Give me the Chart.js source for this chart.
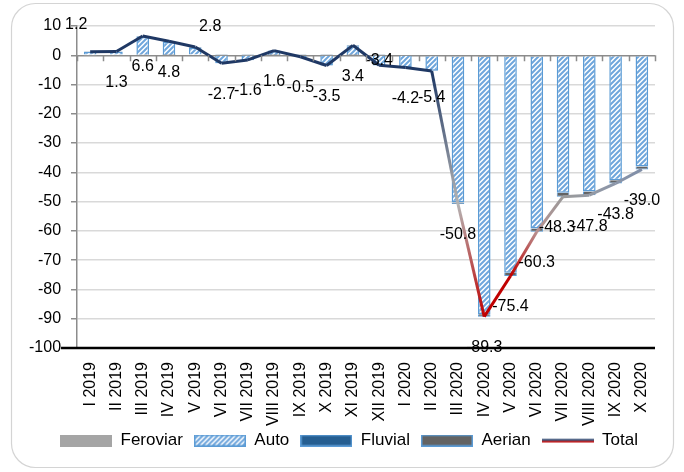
<!DOCTYPE html>
<html><head><meta charset="utf-8">
<script src="https://cdn.jsdelivr.net/npm/chart.js@4/dist/chart.umd.min.js"></script>
<style>html,body{margin:0;padding:0;background:#fff}#wrap{width:684px;height:472px;position:relative}</style>
</head><body><div id="wrap"><canvas id="c"></canvas></div>
<script>
// ---- data ----
const categories = ['I 2019','II 2019','III 2019','IV 2019','V 2019','VI 2019','VII 2019','VIII 2019','IX 2019','X 2019','XI 2019','XII 2019','I 2020','II 2020','III 2020','IV 2020','V 2020','VI 2020','VII 2020','VIII 2020','IX 2020','X 2020'];
const totalValues    = [1.2, 1.3, 6.6, 4.8, 2.8, -2.7, -1.6, 1.6, -0.5, -3.5, 3.4, -3.4, -4.2, -5.4, -50.8, -89.3, -75.4, -60.3, -48.3, -47.8, -43.8, -39.0];
const feroviarValues = [-0.1, 0.0, 0.2, 0.1, 0.0, -0.2, -0.1, 0.1, 0.0, -0.2, 0.1, -0.2, -0.2, -0.3, -0.4, -0.6, -0.5, -0.4, -0.3, -0.3, -0.3, -0.3];
const autoValues     = [1.1, 1.1, 6.0, 4.4, 2.6, -2.5, -1.6, 1.3, -0.6, -3.3, 3.0, -3.3, -4.0, -5.0, -49.8, -87.8, -73.8, -58.8, -46.7, -46.2, -42.4, -37.7];
const fluvialValues  = [0.0, 0.0, 0.1, 0.0, 0.0, -0.1, 0.0, 0.0, 0.0, -0.1, 0.0, 0.0, 0.0, 0.0, -0.1, -0.1, -0.1, 0.0, 0.0, 0.0, 0.0, 0.0];
const aerianValues   = [0.2, 0.2, 0.3, 0.3, 0.2, 0.1, 0.1, 0.2, 0.1, 0.1, 0.3, 0.1, 0.0, -0.1, -0.5, -0.8, -1.0, -1.1, -1.3, -1.3, -1.1, -1.0];
const seriesNames = ['Feroviar', 'Auto', 'Fluvial', 'Aerian', 'Total'];
const yMin = -100, yMax = 10, yStep = 10;

// ---- styles ----
const FONT = "'Liberation Sans', Arial, sans-serif";
const NAVY = '#1f3864', RED = '#c00000', BLUE = '#5b9bd5';
const lineStops = [NAVY,NAVY,NAVY,NAVY,NAVY,NAVY,NAVY,NAVY,NAVY,NAVY,NAVY,NAVY,NAVY,NAVY,
  '#b4b4b4', RED, RED, '#b89090', '#9a9a9a', '#959aa4', '#8b95a8', '#7f8ea8'];
const labelDefault = [0, 31];
const labelSpecial = {0: [-14, -27], 4: [15, -20], 11: [0, -5], 13: [0, 27], 18: [-6, 31]};
const LEGEND_SHIFT_X = 12, LEGEND_SHIFT_Y = -7;

const cv = document.getElementById('c');
const g2 = cv.getContext('2d');

function makeHatch(ctxFor) {
  const s = 5;
  const c = document.createElement('canvas'); c.width = s; c.height = s;
  const g = c.getContext('2d');
  g.fillStyle = '#fff'; g.fillRect(0, 0, s, s);
  g.strokeStyle = '#6fa6dc'; g.lineWidth = 2;
  g.beginPath();
  g.moveTo(-1, s + 1); g.lineTo(s + 1, -1);
  g.moveTo(-s / 2 - 1, s / 2 + 1); g.lineTo(s / 2 + 1, -s / 2 - 1);
  g.moveTo(s / 2 - 1, s * 1.5 + 1); g.lineTo(s * 1.5 + 1, s / 2 - 1);
  g.stroke();
  return ctxFor.createPattern(c, 'repeat');
}
const hatch = makeHatch(g2);

function swatch(kind) {
  const w = 52, h = 12;
  const c = document.createElement('canvas'); c.width = w; c.height = h;
  const g = c.getContext('2d');
  if (kind === 'Feroviar') { g.fillStyle = '#a5a5a5'; g.fillRect(0, 0, w, h); }
  else if (kind === 'Auto') { g.fillStyle = makeHatch(g); g.fillRect(0, 0, w, h); g.strokeStyle = BLUE; g.lineWidth = 1.5; g.strokeRect(0.75, 0.75, w - 1.5, h - 1.5); }
  else if (kind === 'Fluvial') { g.fillStyle = '#255e91'; g.fillRect(0, 0, w, h); g.strokeStyle = BLUE; g.lineWidth = 1.5; g.strokeRect(0.75, 0.75, w - 1.5, h - 1.5); }
  else if (kind === 'Aerian') { g.fillStyle = '#636363'; g.fillRect(0, 0, w, h); g.strokeStyle = BLUE; g.lineWidth = 1.5; g.strokeRect(0.75, 0.75, w - 1.5, h - 1.5); }
  else { g.fillStyle = NAVY; g.fillRect(0, 4.5, w, 2); g.fillStyle = RED; g.fillRect(0, 6.5, w, 1.5); }
  return c;
}

const nonZeroBorder = (wdt) => (ctx) => (ctx.raw === 0 ? 0 : wdt);

const framePlugin = {
  id: 'frame',
  beforeDraw(chart) {
    const c = chart.ctx;
    c.save();
    c.fillStyle = '#fff'; c.fillRect(0, 0, chart.width, chart.height);
    c.strokeStyle = '#d4d4d4'; c.lineWidth = 1.2;
    c.beginPath(); c.roundRect(11.5, 3.5, chart.width - 22, chart.height - 8, 24); c.stroke();
    c.restore();
  }
};

const legendShiftPlugin = {
  id: 'legendShift',
  afterLayout(chart) {
    const l = chart.legend;
    if (l) { l.left += LEGEND_SHIFT_X; l.right += LEGEND_SHIFT_X; l.top += LEGEND_SHIFT_Y; l.bottom += LEGEND_SHIFT_Y; }
  }
};

const labelPlugin = {
  id: 'totLabels',
  afterDatasetsDraw(chart) {
    const meta = chart.getDatasetMeta(4);
    const c = chart.ctx;
    c.save();
    c.font = '16px ' + FONT; c.fillStyle = '#000'; c.textAlign = 'center'; c.textBaseline = 'middle';
    meta.data.forEach((pt, i) => {
      const o = labelSpecial[i] || labelDefault;
      c.fillText(totalValues[i].toFixed(1), pt.x + o[0], pt.y + o[1]);
    });
    c.restore();
  }
};

const axisPlugin = {
  id: 'axisExtras',
  afterDraw(chart) {
    const c = chart.ctx, a = chart.chartArea;
    const xs = chart.scales.x, ys = chart.scales.y;
    const y0 = ys.getPixelForValue(0);
    const step = xs.getPixelForValue(1) - xs.getPixelForValue(0);
    const start = xs.getPixelForValue(0) - step / 2;
    c.save();
    c.strokeStyle = '#8c8c8c'; c.lineWidth = 1.5;
    c.beginPath();
    for (let k = 0; k <= categories.length; k++) {
      const x = Math.round(start + k * step) + 0.5;
      c.moveTo(x, y0); c.lineTo(x, y0 + 6);
    }
    c.stroke();
    const yb = ys.getPixelForValue(yMin);
    c.strokeStyle = '#000'; c.lineWidth = 2.5;
    c.beginPath(); c.moveTo(a.left - 16, yb); c.lineTo(a.right, yb); c.stroke();
    c.restore();
  }
};

new Chart(cv, {
  data: {
    labels: categories,
    datasets: [
      { type: 'bar', label: seriesNames[0], data: feroviarValues, backgroundColor: '#a5a5a5', borderWidth: 0, stack: 's' },
      { type: 'bar', label: seriesNames[1], data: autoValues, backgroundColor: hatch, borderColor: BLUE, borderWidth: nonZeroBorder(1.5), stack: 's' },
      { type: 'bar', label: seriesNames[2], data: fluvialValues, backgroundColor: '#255e91', borderColor: BLUE, borderWidth: nonZeroBorder(1), stack: 's' },
      { type: 'bar', label: seriesNames[3], data: aerianValues, backgroundColor: '#636363', borderColor: BLUE, borderWidth: nonZeroBorder(1), stack: 's' },
      { type: 'line', label: seriesNames[4], data: totalValues, order: -1, borderColor: NAVY, borderWidth: 3, pointRadius: 0, tension: 0,
        segment: { borderColor: (ctx) => {
          const gr = g2.createLinearGradient(ctx.p0.x, ctx.p0.y, ctx.p1.x, ctx.p1.y);
          gr.addColorStop(0, lineStops[ctx.p0DataIndex]); gr.addColorStop(1, lineStops[ctx.p1DataIndex]);
          return gr; } } }
    ]
  },
  options: {
    responsive: true, maintainAspectRatio: false, animation: false,
    layout: { padding: { left: 19, right: 29, top: 26, bottom: 6 } },
    datasets: { bar: { barPercentage: 0.48, categoryPercentage: 1.0 } },
    scales: {
      x: {
        stacked: true,
        grid: { display: false }, border: { display: false },
        ticks: { autoSkip: false, minRotation: 90, maxRotation: 90, padding: 6, color: '#000', font: { family: FONT, size: 16 } },
        afterFit: (scale) => { scale.height = 80; }
      },
      y: {
        stacked: true, min: yMin, max: yMax,
        ticks: { stepSize: yStep, padding: 10, color: '#000', font: { family: FONT, size: 16 } },
        border: { display: true, color: '#8c8c8c', width: 1.5 },
        grid: { tickLength: 6, tickColor: '#8c8c8c',
          color: (ctx) => ctx.tick && ctx.tick.value === 0 ? '#8c8c8c' : (ctx.tick && ctx.tick.value === yMin ? 'rgba(0,0,0,0)' : '#d9d9d9'),
          lineWidth: 1.5 }
      }
    },
    plugins: {
      tooltip: { enabled: false },
      legend: {
        position: 'bottom',
        labels: {
          usePointStyle: true, pointStyleWidth: 52, boxHeight: 12, padding: 11, color: '#000',
          font: { family: FONT, size: 17 },
          generateLabels: () => seriesNames.map((n, i) => ({ text: n, pointStyle: swatch(n), fillStyle: '#fff', strokeStyle: '#fff', lineWidth: 0, hidden: false, datasetIndex: i, fontColor: '#000' }))
        }
      }
    }
  },
  plugins: [framePlugin, legendShiftPlugin, labelPlugin, axisPlugin]
});
</script></body></html>
